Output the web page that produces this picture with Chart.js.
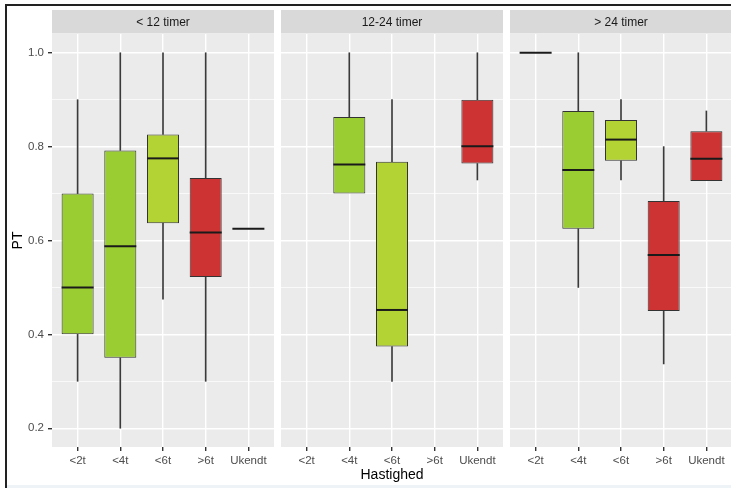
<!DOCTYPE html>
<html>
<head>
<meta charset="utf-8">
<script src="https://cdn.jsdelivr.net/npm/chart.js@4/dist/chart.umd.min.js"></script>
<style>
  html, body { margin: 0; padding: 0; background: #ffffff; }
  body { position: relative; width: 731px; height: 488px; overflow: hidden; }
  canvas { position: absolute; top: 0; }
  .rule { position: absolute; background: #222222; }
</style>
</head>
<body>
<canvas id="p1" width="274" height="488" style="left:0px"></canvas>
<canvas id="p2" width="222" height="488" style="left:281px"></canvas>
<canvas id="p3" width="222" height="488" style="left:510px"></canvas>
<div class="rule" style="left:5px;top:4px;width:726px;height:2px"></div>
<div class="rule" style="left:5px;top:4px;width:2px;height:484px"></div>
<div style="position:absolute;left:7px;top:485px;width:724px;height:3px;background:#eef3f8"></div>
<script>
// Speed groups on the x axis, one facet per time window
const categories = ['<2t', '<4t', '<6t', '>6t', 'Ukendt'];
const facets = ['< 12 timer', '12-24 timer', '> 24 timer'];

// Box statistics per facet (null = no observations)
const lt12Min = [0.30, 0.20, 0.475, 0.30, 0.625];
const lt12Q1  = [0.40, 0.35, 0.637, 0.522, 0.625];
const lt12Med = [0.50, 0.588, 0.775, 0.617, 0.625];
const lt12Q3  = [0.70, 0.792, 0.826, 0.733, 0.625];
const lt12Max = [0.90, 1.00, 1.00, 1.00, 0.625];

const midMin = [null, 0.70, 0.30, null, 0.729];
const midQ1  = [null, 0.70, 0.374, null, 0.764];
const midMed = [null, 0.762, 0.452, null, 0.801];
const midQ3  = [null, 0.863, 0.768, null, 0.90];
const midMax = [null, 1.00, 0.90, null, 1.00];

const gt24Min = [1.00, 0.50, 0.729, 0.337, 0.727];
const gt24Q1  = [1.00, 0.625, 0.770, 0.45, 0.727];
const gt24Med = [1.00, 0.75, 0.815, 0.569, 0.774];
const gt24Q3  = [1.00, 0.876, 0.857, 0.684, 0.833];
const gt24Max = [1.00, 1.00, 0.90, 0.80, 0.876];

// Y axis ticks: labelled majors and unlabelled minors
const yMajor = [0.2, 0.4, 0.6, 0.8, 1.0];
const yMajorLabels = ['0.2', '0.4', '0.6', '0.8', '1.0'];
const yMinor = [0.3, 0.5, 0.7, 0.9];

const fills = ['#9ACD32', '#9ACD32', '#B3D334', '#CD3333', '#CD3333'];
const FONT = "'Liberation Sans', Arial, Helvetica, sans-serif";

const yTickValues = yMajor.concat(yMinor).sort((a, b) => a - b);
const majorIndex = v => yMajor.findIndex(m => Math.abs(m - v) < 1e-6);

// Grey panel background and facet strip
const panelPlugin = {
  id: 'panel',
  beforeDraw(chart, args, opts) {
    const { ctx, chartArea: a } = chart;
    ctx.save();
    ctx.fillStyle = '#EBEBEB';
    ctx.fillRect(a.left, a.top, a.right - a.left, a.bottom - a.top);
    ctx.fillStyle = '#D9D9D9';
    ctx.fillRect(a.left, 10, a.right - a.left, a.top - 10.5);
    ctx.fillStyle = '#1A1A1A';
    ctx.font = '12px ' + FONT;
    ctx.textAlign = 'center';
    ctx.textBaseline = 'middle';
    ctx.fillText(opts.text, (a.left + a.right) / 2, (10 + a.top) / 2 + 0.5);
    ctx.restore();
  }
};

function makePanel(id, facet, mins, q1s, meds, q3s, maxs, showY, showXTitle) {
  const whiskers = [], boxes = [], medians = [];
  categories.forEach((c, i) => {
    if (meds[i] === null) return;
    if (q1s[i] > mins[i]) whiskers.push({ x: i, y: [mins[i], q1s[i]] });
    if (maxs[i] > q3s[i]) whiskers.push({ x: i, y: [q3s[i], maxs[i]] });
    boxes.push({ x: i, y: [q1s[i], q3s[i]] });
    medians.push({ x: i, y: meds[i] });
  });

  const tickFont = { size: 11.5, family: FONT };

  new Chart(document.getElementById(id), {
    type: 'bar',
    data: {
      datasets: [
        { type: 'bar', data: whiskers, backgroundColor: '#3a3a3a', barThickness: 1,
          grouped: false, order: 3 },
        { type: 'bar', data: boxes,
          backgroundColor: c => (c.raw ? fills[c.raw.x] : '#999'),
          borderColor: '#333333', borderWidth: 1, borderSkipped: false,
          barPercentage: 0.75, categoryPercentage: 1, grouped: false, order: 2 },
        { type: 'scatter', data: medians, pointStyle: 'line', radius: 16,
          borderWidth: 2, borderColor: '#1A1A1A', order: 1 }
      ]
    },
    options: {
      responsive: false,
      animation: false,
      events: [],
      layout: { autoPadding: false, padding: { top: 34, right: 0, bottom: 0, left: 0 } },
      plugins: { legend: { display: false }, tooltip: { enabled: false }, panel: { text: facet } },
      scales: {
        x: {
          type: 'linear', min: -0.6, max: 4.6, offset: false, bounds: 'data',
          afterBuildTicks: s => { s.ticks = categories.map((c, i) => ({ value: i })); },
          afterFit: s => { s.height = 41; s.paddingLeft = 0; s.paddingRight = 0; },
          ticks: { callback: v => categories[v], autoSkip: false, maxRotation: 0,
                   color: '#4D4D4D', font: tickFont, padding: 3 },
          grid: { offset: false, color: '#FFFFFF', lineWidth: 1.4, tickColor: '#333333', tickLength: 4 },
          border: { display: false },
          title: { display: showXTitle, text: 'Hastighed', color: '#000000',
                   font: { size: 14, family: FONT }, padding: { top: 0, bottom: 4 } }
        },
        y: {
          min: 0.16, max: 1.04, bounds: 'data',
          afterBuildTicks: s => { s.ticks = yTickValues.map(v => ({ value: v })); },
          afterFit: s => { s.width = showY ? 52 : 0; s.paddingTop = 0; s.paddingBottom = 0; },
          ticks: { display: showY, autoSkip: false, color: '#4D4D4D', font: tickFont, padding: 4,
                   callback: v => { const k = majorIndex(v); return k >= 0 ? yMajorLabels[k] : ''; } },
          grid: { color: '#FFFFFF', drawTicks: showY, tickLength: 4,
                  lineWidth: c => (c.tick && majorIndex(c.tick.value) >= 0 ? 1.4 : 0.7),
                  tickColor: c => (c.tick && majorIndex(c.tick.value) >= 0 ? '#333333' : 'rgba(0,0,0,0)') },
          border: { display: false },
          title: { display: showY, text: 'PT', color: '#000000',
                   font: { size: 14, family: FONT }, padding: { top: 10, bottom: 0 } }
        }
      }
    },
    plugins: [panelPlugin]
  });
}

makePanel('p1', facets[0], lt12Min, lt12Q1, lt12Med, lt12Q3, lt12Max, true, false);
makePanel('p2', facets[1], midMin, midQ1, midMed, midQ3, midMax, false, true);
makePanel('p3', facets[2], gt24Min, gt24Q1, gt24Med, gt24Q3, gt24Max, false, false);
</script>
</body>
</html>
